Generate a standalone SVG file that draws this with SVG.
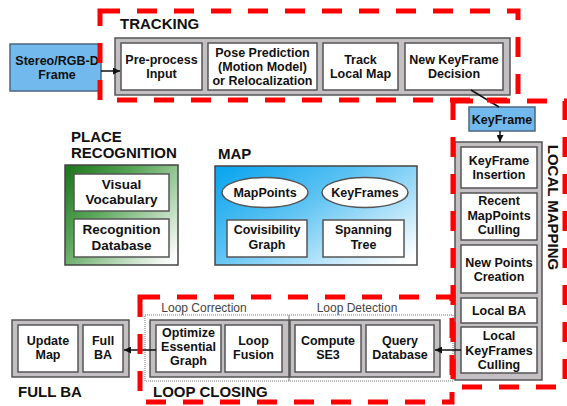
<svg xmlns="http://www.w3.org/2000/svg" width="567" height="406" viewBox="0 0 567 406">
<style>
text{font-family:"Liberation Sans",Arial,sans-serif;fill:#111}
.b{font-weight:bold;font-size:12.5px;text-anchor:middle}
.bl{font-weight:bold;font-size:13.5px;text-anchor:middle}
.t{font-weight:bold;font-size:15px}
.s{font-size:12px;fill:#444;text-anchor:middle}
.cont{fill:#c3bfc3;stroke:#555;stroke-width:1.5}
.box{fill:#fff;stroke:#555;stroke-width:1.5}
.blue{fill:#72b9ee;stroke:#4c6782;stroke-width:1.5}
.red{fill:none;stroke:#f00;stroke-width:5;stroke-dasharray:20 17}
.dot{fill:none;stroke:#777;stroke-width:1;stroke-dasharray:1 1}
.ln{stroke:#111;stroke-width:1.5;fill:none}
</style>
<defs>
<marker id="ah" viewBox="0 0 10 10" refX="10" refY="5" markerWidth="7" markerHeight="7" markerUnits="userSpaceOnUse" orient="auto">
<path d="M0,0 L10,5 L0,10 z" fill="#111"/>
</marker>
<linearGradient id="gg" x1="0" y1="0.1" x2="1" y2="0.9">
<stop offset="0" stop-color="#207a20"/>
<stop offset="0.35" stop-color="#5aa65a"/>
<stop offset="1" stop-color="#ffffff"/>
</linearGradient>
<linearGradient id="bg" x1="0" y1="0.1" x2="1" y2="0.9">
<stop offset="0" stop-color="#0ea6ef"/>
<stop offset="0.4" stop-color="#5cc2f3"/>
<stop offset="1" stop-color="#ffffff"/>
</linearGradient>
</defs>

<g id="tracking">
<rect class="cont" x="115" y="38" width="395" height="57"/>
<text class="t" x="120" y="29">TRACKING</text>
<g id="preprocess"><rect class="box" x="121" y="43" width="81" height="47"/>
<text class="b" x="161.5" y="64">Pre-process</text><text class="b" x="161.5" y="78">Input</text></g>
<g id="pose"><rect class="box" x="208" y="43" width="109" height="47"/>
<text class="b" x="262.5" y="57">Pose Prediction</text><text class="b" x="262.5" y="71">(Motion Model)</text><text class="b" x="262.5" y="85">or Relocalization</text></g>
<g id="tracklocal"><rect class="box" x="323" y="43" width="75" height="47"/>
<text class="b" x="360.5" y="64">Track</text><text class="b" x="360.5" y="78">Local Map</text></g>
<g id="newkf"><rect class="box" x="405" y="43" width="98" height="47"/>
<text class="b" x="454" y="64">New KeyFrame</text><text class="b" x="454" y="78">Decision</text></g>
</g>

<g id="stereo"><rect class="blue" x="10" y="44" width="91" height="47"/>
<text class="b" x="57" y="65">Stereo/RGB-D</text><text class="b" x="57" y="79">Frame</text></g>

<g id="keyframe"><rect class="blue" x="469" y="107" width="66" height="24"/>
<text class="b" x="502" y="124">KeyFrame</text></g>

<g id="localmapping">
<rect class="cont" x="455" y="142" width="87" height="238"/>
<g id="kfinsert"><rect class="box" x="461" y="147" width="76" height="41"/>
<text class="b" x="499" y="165">KeyFrame</text><text class="b" x="499" y="179">Insertion</text></g>
<g id="recent"><rect class="box" x="461" y="193" width="76" height="47"/>
<text class="b" x="499" y="205">Recent</text><text class="b" x="499" y="219.5">MapPoints</text><text class="b" x="499" y="234">Culling</text></g>
<g id="newpoints"><rect class="box" x="461" y="245" width="76" height="48"/>
<text class="b" x="499" y="267">New Points</text><text class="b" x="499" y="281">Creation</text></g>
<g id="localba"><rect class="box" x="461" y="298" width="76" height="25"/>
<text class="b" x="499" y="315">Local BA</text></g>
<g id="kfculling"><rect class="box" x="461" y="327" width="76" height="46"/>
<text class="b" x="499" y="340">Local</text><text class="b" x="499" y="354.5">KeyFrames</text><text class="b" x="499" y="369">Culling</text></g>
<text class="t" transform="translate(553,207.5) rotate(90)" x="0" y="5.5" text-anchor="middle">LOCAL MAPPING</text>
</g>

<g id="placerecognition">
<text class="t" x="71" y="142">PLACE</text>
<text class="t" x="71" y="158">RECOGNITION</text>
<rect x="65" y="165" width="113" height="100" fill="url(#gg)" stroke="#444" stroke-width="1.5"/>
<g id="vocab"><rect class="box" x="74" y="174" width="95" height="37"/>
<text class="bl" x="121.5" y="188.5">Visual</text><text class="bl" x="121.5" y="204">Vocabulary</text></g>
<g id="recdb"><rect class="box" x="74" y="219" width="95" height="38"/>
<text class="bl" x="121.5" y="234">Recognition</text><text class="bl" x="121.5" y="250">Database</text></g>
</g>

<g id="map">
<text class="t" x="218" y="159">MAP</text>
<rect x="215" y="166" width="202" height="99" fill="url(#bg)" stroke="#444" stroke-width="1.5"/>
<g id="mappoints"><ellipse cx="265" cy="192.5" rx="43" ry="15" fill="#fff" stroke="#555" stroke-width="1.5"/>
<text class="b" x="265" y="197">MapPoints</text></g>
<g id="keyframes"><ellipse cx="365" cy="192.5" rx="43" ry="15" fill="#fff" stroke="#555" stroke-width="1.5"/>
<text class="b" x="365" y="197">KeyFrames</text></g>
<g id="covis"><rect class="box" x="227" y="220" width="80" height="37"/>
<text class="b" x="267" y="234">Covisibility</text><text class="b" x="267" y="249">Graph</text></g>
<g id="spanning"><rect class="box" x="323" y="220" width="81" height="37"/>
<text class="b" x="363.5" y="234">Spanning</text><text class="b" x="363.5" y="249">Tree</text></g>
</g>

<g id="loopclosing">
<rect class="dot" x="145" y="315" width="144" height="66"/>
<rect class="dot" x="289" y="315" width="164" height="66"/>
<text class="s" x="204" y="312">Loop Correction</text>
<text class="s" x="357" y="312">Loop Detection</text>
<rect class="cont" x="150" y="320" width="139" height="57"/>
<rect class="cont" x="290" y="320" width="150" height="57"/>
<g id="optimize"><rect class="box" x="156" y="325" width="65" height="47"/>
<text class="b" x="188.5" y="337">Optimize</text><text class="b" x="188.5" y="351">Essential</text><text class="b" x="188.5" y="365">Graph</text></g>
<g id="fusion"><rect class="box" x="225" y="325" width="57" height="47"/>
<text class="b" x="253.5" y="345">Loop</text><text class="b" x="253.5" y="359">Fusion</text></g>
<g id="se3"><rect class="box" x="295" y="325" width="66" height="47"/>
<text class="b" x="328" y="345">Compute</text><text class="b" x="328" y="359">SE3</text></g>
<g id="query"><rect class="box" x="366" y="325" width="68" height="47"/>
<text class="b" x="400" y="345">Query</text><text class="b" x="400" y="359">Database</text></g>
<text class="t" x="153" y="397">LOOP CLOSING</text>
</g>

<g id="fullba">
<rect class="cont" x="12" y="320" width="117" height="57"/>
<g id="updatemap"><rect class="box" x="18" y="325" width="60" height="47"/>
<text class="b" x="48" y="345">Update</text><text class="b" x="48" y="359">Map</text></g>
<g id="fullbabox"><rect class="box" x="83" y="325" width="40" height="47"/>
<text class="b" x="103" y="345">Full</text><text class="b" x="103" y="359">BA</text></g>
<text class="t" x="18" y="397">FULL BA</text>
</g>

<g id="connectors">
<line class="ln" x1="101" y1="71" x2="120" y2="71" marker-end="url(#ah)"/>
<line class="ln" x1="471" y1="90" x2="499" y2="107"/>
<line class="ln" x1="500" y1="131" x2="500" y2="142" marker-end="url(#ah)"/>
<line class="ln" x1="461" y1="350" x2="435" y2="350" marker-end="url(#ah)"/>
<line class="ln" x1="156" y1="350" x2="124" y2="350" marker-end="url(#ah)"/>
</g>

<g id="regions">
<rect class="red" x="100" y="11" width="418" height="89"/>
<rect class="red" x="453" y="101" width="112" height="286"/>
<rect class="red" x="140" y="297" width="312" height="105"/>
</g>
</svg>
